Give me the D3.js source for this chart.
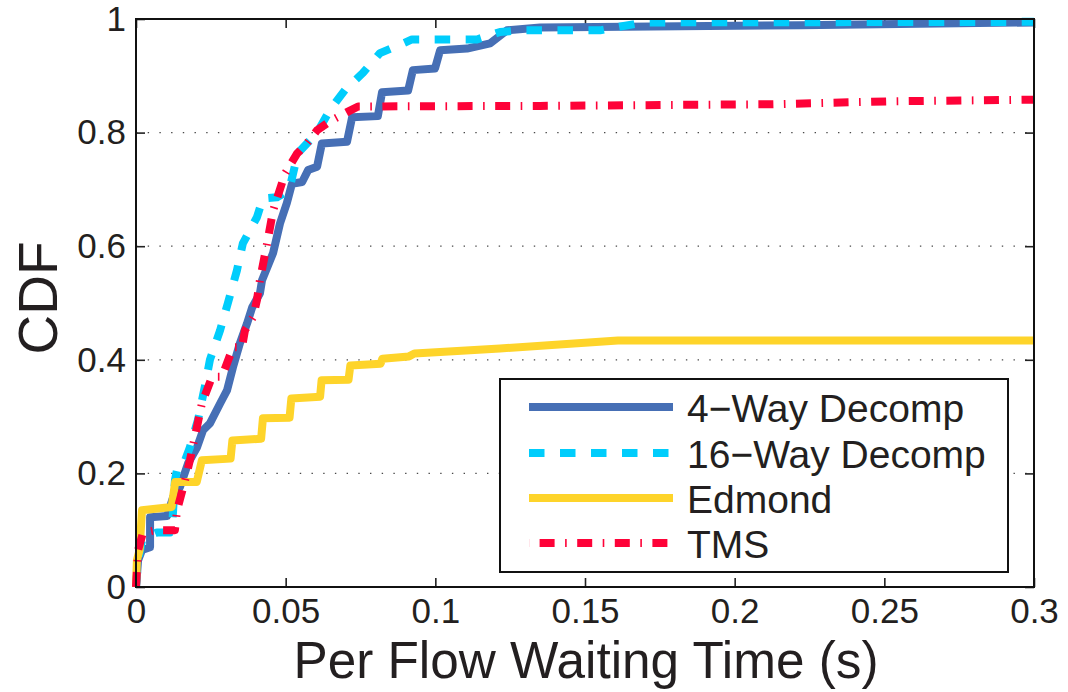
<!DOCTYPE html>
<html>
<head>
<meta charset="utf-8">
<script src="https://cdn.jsdelivr.net/npm/d3@7"></script>
<style>
  html, body { margin: 0; padding: 0; background: #fff; }
  svg { display: block; font-family: "Liberation Sans", Arial, Helvetica, sans-serif; }
</style>
</head>
<body>
<svg id="chart" width="1068" height="692"></svg>
<script>
// Empirical CDFs of per-flow waiting time (seconds) for four schedulers.
const seriesNames = ["4\u2212Way Decomp", "16\u2212Way Decomp", "Edmond", "TMS"];

const fourWayX = [0, 0.0007, 0.002, 0.0047, 0.0047, 0.0104, 0.0124, 0.0147, 0.0174, 0.0204, 0.0224, 0.0247,
  0.0281, 0.0304, 0.0324, 0.0347, 0.0371, 0.0388, 0.0414, 0.0421, 0.0458, 0.0481, 0.0504, 0.0521, 0.0555,
  0.0575, 0.0605, 0.0621, 0.0705, 0.0722, 0.0808, 0.0822, 0.0909, 0.0925, 0.0999, 0.1016, 0.1106, 0.1183,
  0.1239, 0.135, 0.222, 0.3];
const fourWayY = [0, 0.047, 0.065, 0.07, 0.123, 0.125, 0.158, 0.176, 0.218, 0.246, 0.276, 0.288,
  0.323, 0.346, 0.387, 0.429, 0.464, 0.492, 0.517, 0.54, 0.588, 0.64, 0.676, 0.71, 0.713,
  0.734, 0.74, 0.781, 0.784, 0.827, 0.829, 0.871, 0.874, 0.91, 0.913, 0.945, 0.948, 0.957,
  0.98, 0.985, 0.989, 0.994];

const sixteenWayX = [0, 0.0007, 0.002, 0.0047, 0.007, 0.0114, 0.012, 0.013, 0.0137, 0.0155, 0.018, 0.0207,
  0.023, 0.0247, 0.0281, 0.0307, 0.0337, 0.0357, 0.0404, 0.0424, 0.0471, 0.0508, 0.0514, 0.0541, 0.0605,
  0.0648, 0.0698, 0.0758, 0.0815, 0.0892, 0.0922, 0.1139, 0.1216, 0.1283, 0.155, 0.161, 0.1697, 0.3];
const sixteenWayY = [0, 0.047, 0.082, 0.091, 0.096, 0.096, 0.1, 0.188, 0.206, 0.21, 0.246, 0.294,
  0.353, 0.4, 0.452, 0.5, 0.557, 0.605, 0.651, 0.684, 0.686, 0.698, 0.704, 0.764, 0.8,
  0.84, 0.875, 0.905, 0.94, 0.957, 0.964, 0.964, 0.977, 0.98, 0.98, 0.986, 0.994, 0.995];

const edmondX = [0, 0.0003, 0.0012, 0.002, 0.0119, 0.0131, 0.0203, 0.022, 0.0316, 0.0322, 0.0418, 0.0424,
  0.0513, 0.0519, 0.0615, 0.062, 0.071, 0.0716, 0.0817, 0.0823, 0.0912, 0.093, 0.1216, 0.161, 0.3];
const edmondY = [0, 0.047, 0.065, 0.135, 0.141, 0.185, 0.185, 0.223, 0.226, 0.258, 0.261, 0.297,
  0.298, 0.332, 0.335, 0.364, 0.365, 0.39, 0.393, 0.402, 0.406, 0.411, 0.42, 0.434, 0.434];

const tmsX = [0, 0.0007, 0.0023, 0.0047, 0.0067, 0.013, 0.0137, 0.0164, 0.018, 0.0214, 0.022, 0.0254,
  0.0287, 0.0324, 0.0354, 0.0364, 0.0391, 0.0404, 0.0414, 0.0438, 0.0458, 0.0498, 0.0538, 0.0571, 0.0605,
  0.0648, 0.0705, 0.0742, 0.135, 0.2128, 0.2509, 0.3];
const tmsY = [0, 0.065, 0.095, 0.098, 0.1, 0.1, 0.135, 0.188, 0.223, 0.308, 0.323, 0.37,
  0.37, 0.422, 0.422, 0.452, 0.475, 0.505, 0.54, 0.605, 0.663, 0.728, 0.763, 0.781, 0.804,
  0.82, 0.836, 0.846, 0.847, 0.85, 0.855, 0.858];

const xTickValues = [0, 0.05, 0.1, 0.15, 0.2, 0.25, 0.3];
const xTickLabels = ["0", "0.05", "0.1", "0.15", "0.2", "0.25", "0.3"];
const yTickValues = [0, 0.2, 0.4, 0.6, 0.8, 1];
const yTickLabels = ["0", "0.2", "0.4", "0.6", "0.8", "1"];
const gridValues = [0.2, 0.4, 0.6, 0.8];

const xTitle = "Per Flow Waiting Time (s)";
const yTitle = "CDF";

// Build series records from the named arrays
const seriesData = [
  { name: seriesNames[0], xs: fourWayX, ys: fourWayY, color: "#466fb5", dash: null },
  { name: seriesNames[1], xs: sixteenWayX, ys: sixteenWayY, color: "#00cdfc", dash: "15.5,15.5" },
  { name: seriesNames[2], xs: edmondX, ys: edmondY, color: "#fed42a", dash: null },
  { name: seriesNames[3], xs: tmsX, ys: tmsY, color: "#fe0238", dash: "15,10.5,1.6,10.5" }
].map(s => ({ ...s, points: s.xs.map((v, i) => [v, s.ys[i]]) }));

const W = 1068, H = 692;
const plot = { left: 136, right: 1034, top: 19, bottom: 587 };

const svg = d3.select("#chart");
svg.append("rect").attr("width", W).attr("height", H).attr("fill", "#fff");

const x = d3.scaleLinear().domain([0, 0.3]).range([plot.left, plot.right]);
const y = d3.scaleLinear().domain([0, 1]).range([plot.bottom, plot.top]);

// Dotted horizontal grid lines
svg.append("g").selectAll("line").data(gridValues).join("line")
  .attr("x1", plot.left).attr("x2", plot.right)
  .attr("y1", d => y(d)).attr("y2", d => y(d))
  .attr("stroke", "#4a4a4a").attr("stroke-width", 1.3)
  .attr("stroke-dasharray", "1.4,10.3");

const tickLen = 9;
const labelFont = 35;

// Bottom axis with labels, ticks pointing inward
const gx = svg.append("g").attr("transform", `translate(0,${plot.bottom})`)
  .call(d3.axisBottom(x).tickValues(xTickValues)
    .tickFormat((d, i) => xTickLabels[i]).tickSize(-tickLen).tickPadding(11));
// Top axis: ticks only
const gxTop = svg.append("g").attr("transform", `translate(0,${plot.top})`)
  .call(d3.axisTop(x).tickValues(xTickValues).tickFormat("").tickSize(-tickLen));
// Left axis with labels
const gy = svg.append("g").attr("transform", `translate(${plot.left},0)`)
  .call(d3.axisLeft(y).tickValues(yTickValues)
    .tickFormat((d, i) => yTickLabels[i]).tickSize(-tickLen).tickPadding(10));
// Right axis: ticks only
const gyRight = svg.append("g").attr("transform", `translate(${plot.right},0)`)
  .call(d3.axisRight(y).tickValues(yTickValues).tickFormat("").tickSize(-tickLen));

[gx, gxTop, gy, gyRight].forEach(g => {
  g.select(".domain").remove();
  g.selectAll(".tick line").attr("stroke", "#222").attr("stroke-width", 1.6);
  g.selectAll(".tick text")
    .attr("fill", "#231f20")
    .style("font-size", labelFont + "px")
    .style("font-family", "\"Liberation Sans\", Arial, Helvetica, sans-serif");
});
// Bottom labels: place baseline explicitly
gx.selectAll(".tick text").attr("y", 0).attr("dy", null).attr("transform", "translate(0,36)");

// Series lines (drawn in stacking order)
const line = d3.line().x(d => x(d[0])).y(d => y(d[1])).curve(d3.curveLinear);
svg.append("g").selectAll("path").data(seriesData).join("path")
  .attr("d", d => line(d.points))
  .attr("fill", "none")
  .attr("stroke", d => d.color)
  .attr("stroke-width", 8)
  .attr("stroke-linejoin", "round")
  .attr("stroke-linecap", "butt")
  .attr("stroke-dasharray", d => d.dash);

// Plot frame
svg.append("rect")
  .attr("x", plot.left).attr("y", plot.top)
  .attr("width", plot.right - plot.left).attr("height", plot.bottom - plot.top)
  .attr("fill", "none").attr("stroke", "#111").attr("stroke-width", 2);

// Axis titles
svg.append("text")
  .attr("x", 586).attr("y", 678)
  .attr("text-anchor", "middle")
  .attr("fill", "#231f20")
  .attr("textLength", 585)
  .attr("lengthAdjust", "spacingAndGlyphs")
  .style("font-size", "52px")
  .text(xTitle);

svg.append("text")
  .attr("transform", "translate(57,298) rotate(-90)")
  .attr("text-anchor", "middle")
  .attr("fill", "#231f20")
  .style("font-size", "55px")
  .text(yTitle);

// Legend
const legend = { left: 500, top: 379, right: 1008, bottom: 572 };
const legendRows = [407, 453, 498, 543];
const lg = svg.append("g");
lg.append("rect")
  .attr("x", legend.left).attr("y", legend.top)
  .attr("width", legend.right - legend.left).attr("height", legend.bottom - legend.top)
  .attr("fill", "#fff").attr("stroke", "#111").attr("stroke-width", 2);

const legendItems = lg.selectAll("g.item").data(seriesData).join("g").attr("class", "item");
legendItems.append("line")
  .attr("x1", 529).attr("x2", 673)
  .attr("y1", (d, i) => legendRows[i]).attr("y2", (d, i) => legendRows[i])
  .attr("stroke", d => d.color)
  .attr("stroke-width", 8)
  .attr("stroke-dasharray", d => d.dash)
  .attr("stroke-dashoffset", d => d.dash && d.dash.split(",").length > 2 ? 27 : 0);
legendItems.append("text")
  .attr("x", 687)
  .attr("y", (d, i) => legendRows[i] + 15)
  .attr("fill", "#231f20")
  .style("font-size", "39px")
  .text(d => d.name);
</script>
</body>
</html>
